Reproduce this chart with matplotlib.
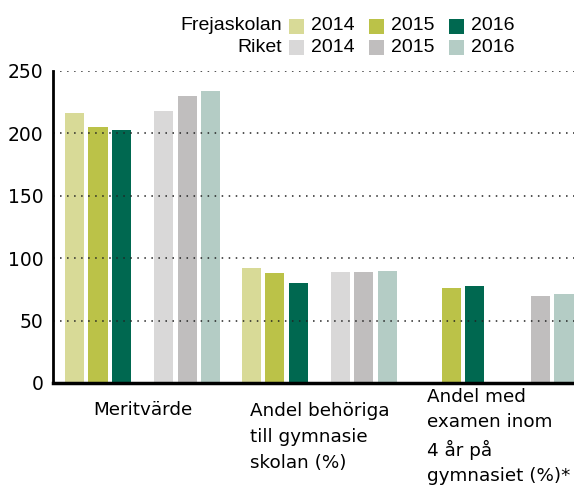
import matplotlib
matplotlib.use("Agg")
import matplotlib.pyplot as plt
from matplotlib.patches import Rectangle
from matplotlib import font_manager
import numpy as np

# ---- data ----
categories = ["Meritvärde",
              "Andel behöriga\ntill gymnasie\nskolan (%)",
              "Andel med\nexamen inom\n4 år på\ngymnasiet (%)*"]
series_names = ["Frejaskolan 2014", "Frejaskolan 2015", "Frejaskolan 2016",
                "Riket 2014", "Riket 2015", "Riket 2016"]
values = {
    "Frejaskolan 2014": [216, 92.5, None],
    "Frejaskolan 2015": [205, 88.5, 76.5],
    "Frejaskolan 2016": [203, 80.5, 78],
    "Riket 2014": [218, 89, None],
    "Riket 2015": [230, 89, 70],
    "Riket 2016": [234, 90, 71.5],
}
colors = ["#d8da97", "#bbc248", "#006850", "#d9d8d8", "#c0bebe", "#b4ccc5"]
legend_rows = ["Frejaskolan", "Riket"]
legend_years = ["2014", "2015", "2016"]
yticks = [0, 50, 100, 150, 200, 250]

W, H = 574, 488
fig = plt.figure(figsize=(W / 100, H / 100), dpi=100)
FONT = "DejaVu Sans"
names = {f.name for f in font_manager.fontManager.ttflist}
LEG_FONT = "Liberation Sans Narrow" if "Liberation Sans Narrow" in names else "Liberation Sans"
LEG_SIZE = 16 if LEG_FONT == "Liberation Sans Narrow" else 14

def fx(px):
    return px / W

def fy(py):
    return 1 - py / H

ax = fig.add_axes([fx(53), fy(383), fx(574) - fx(53), fy(71) - fy(383)])

offsets = [0, 1, 2, 3.79, 4.79, 5.79]
group_step = 7.52
bar_w = 0.81
for i, name in enumerate(series_names):
    for g, v in enumerate(values[name]):
        if v is None:
            continue
        ax.bar(g * group_step + offsets[i], v, width=bar_w, align="edge",
               color=colors[i], edgecolor="none", zorder=1)

ax.set_xlim(-0.51, 21.66)
ax.set_ylim(0, 250)
ax.set_yticks(yticks)
ax.set_yticklabels([str(t) for t in yticks], fontsize=13.5, family=FONT)
ax.tick_params(axis="y", length=0, pad=7)
ax.set_xticks([])
for t in yticks[1:]:
    ax.axhline(t, color="#222222", lw=1.1, linestyle=(0, (1, 3.6)), zorder=2)
for s in ["top", "right"]:
    ax.spines[s].set_visible(False)
ax.spines["left"].set_linewidth(2)
ax.spines["bottom"].set_linewidth(2.5)
ax.spines["left"].set_zorder(3)
ax.spines["bottom"].set_zorder(3)

# category labels: va="baseline" anchors the last line's baseline (pixels)
label_x = [g * group_step + (offsets[-1] + bar_w) / 2 for g in range(3)]
label_x[2] += 0.1
line_px = [26.7, 26.7, 25.6]
first_baseline_px = [415, 415, 404]
for x, ypx, lp, lab in zip(label_x, first_baseline_px, line_px, categories):
    n = lab.count("\n")
    last_px = ypx + n * lp
    yax = (383 - last_px) / 312.0
    ax.text(x, yax, lab, transform=ax.get_xaxis_transform(), ha="center",
            va="baseline", multialignment="left", fontsize=13.2, family=FONT,
            linespacing=1.58 * lp / 26.7, clip_on=False)

# legend (manual)
row_y = [26, 47]
patch_x = [289, 369, 449]
for r, rowname in enumerate(legend_rows):
    fig.text(fx(282), fy(row_y[r]), rowname, ha="right", va="center",
             fontsize=LEG_SIZE, family=LEG_FONT)
    for c, yr in enumerate(legend_years):
        col = colors[r * 3 + c]
        fig.add_artist(Rectangle((fx(patch_x[c]), fy(row_y[r] + 7.5)),
                                 fx(15), 15 / H, transform=fig.transFigure,
                                 facecolor=col, edgecolor="none"))
        fig.text(fx(patch_x[c] + 22), fy(row_y[r]), yr, ha="left", va="center",
                 fontsize=LEG_SIZE, family=LEG_FONT)

fig.savefig("out.png", dpi=100)
